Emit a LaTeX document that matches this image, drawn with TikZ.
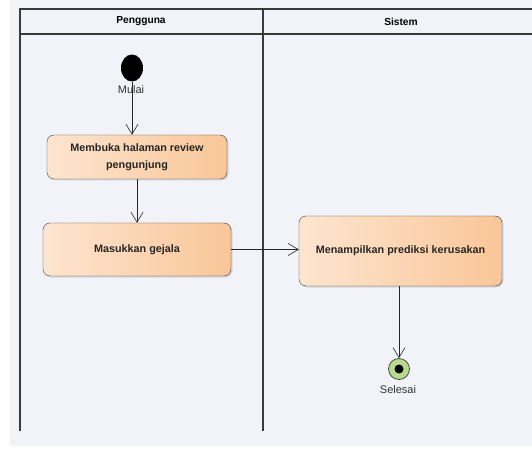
\documentclass[tikz,border=0pt]{standalone}
\usepackage{fontspec}
\setmainfont{Liberation Sans}
\usetikzlibrary{arrows.meta, positioning, shadows, shapes.geometric}
\definecolor{lanebg}{HTML}{F1F3F8}
\definecolor{laneline}{HTML}{3A3A3A}
\definecolor{peachL}{HTML}{FDE5CF}
\definecolor{peachR}{HTML}{F9C698}
\definecolor{endgreen}{HTML}{B8DA8C}

\begin{document}
\begin{tikzpicture}[x=1pt, y=1pt,
    action/.style={
        rectangle, draw=black!75, rounded corners=7pt, inner sep=0pt,
        left color=peachL, right color=peachR, text=black!85,
        font=\fontsize{10.8}{17}\selectfont\bfseries, align=center,
        drop shadow={shadow xshift=1.5pt, shadow yshift=-1.5pt, opacity=0.25}
    },
    lane/.style={draw=laneline, line width=1.1pt},
    arrow/.style={-{Straight Barb[length=10pt, width=12pt]}, black!85, line width=0.6pt},
    caption/.style={font=\fontsize{11}{13}\selectfont, text=black!80},
    header/.style={font=\fontsize{10.2}{12}\selectfont\bfseries}
]
\useasboundingbox (0,0) rectangle (532,450);
\fill[lanebg] (10,4) rectangle (532,450);

% Swimlanes
\draw[lane] (20,19) -- (20,441) -- (532,441);
\draw[lane] (20,416) -- (532,416);
\draw[lane] (263,19) -- (263,441);
\node[header] (pengguna) at (141,428.5) {Pengguna};
\node[header] (sistem) at (401,428.5) {Sistem};

% Start and end
\node[ellipse, fill=black, minimum width=22pt, minimum height=27pt, inner sep=0pt] (start) at (132,382) {};
\node[caption] (mulai) at (131,360) {Mulai};
\node[circle, draw=black!70, fill=endgreen, line width=0.8pt, minimum size=21pt, inner sep=0pt] (finish) at (399,81) {};
\node[circle, fill=black, minimum size=9pt, inner sep=0pt] at (finish) {};
\node[caption] (selesai) at (398,60) {Selesai};

% Actions
\node[action, minimum width=180pt, minimum height=44pt] (review) at (137,293) {Membuka halaman review\\pengunjung};
\node[action, minimum width=188pt, minimum height=53pt] (gejala) at (137,200.5) {Masukkan gejala};
\node[action, minimum width=203pt, minimum height=70pt] (prediksi) at (400.5,199) {Menampilkan prediksi kerusakan};

% Flows
\draw[arrow] (start) -- (start |- review.north);
\draw[arrow] (review) -- (gejala);
\draw[arrow] (gejala.east) -- (gejala.east -| prediksi.west);
\draw[arrow] (prediksi.south -| finish) -- (finish);

\end{tikzpicture}
\end{document}
